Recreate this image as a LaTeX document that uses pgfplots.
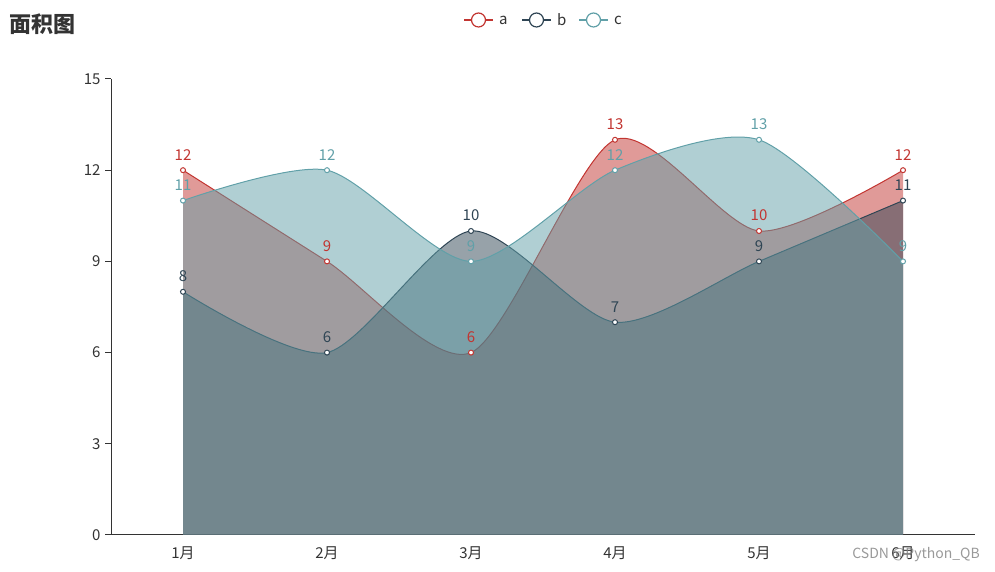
\documentclass[border=0pt]{standalone}
\usepackage{fontspec}
\setmainfont{Noto Sans CJK SC}
\usepackage{pgfplots}
\pgfplotsset{compat=1.18}
\definecolor{ca}{HTML}{C23531}
\definecolor{cb}{HTML}{2F4554}
\definecolor{cc}{HTML}{61A0A8}
\definecolor{txt}{HTML}{333333}
\newcommand{\fs}{\fontsize{15bp}{18bp}\selectfont}
\begin{document}
\begin{tikzpicture}[x=1bp,y=1bp]
\path[use as bounding box] (0,0) rectangle (995,572);
\begin{axis}[
  at={(111bp,37bp)}, anchor=south west,
  scale only axis, width=864bp, height=456bp,
  xmin=0, xmax=6, ymin=0, ymax=15,
  axis lines=left,
  axis line style={-, draw=txt, line width=1bp},
  /pgf/number format/assume math mode=true,
  tick align=outside,
  major tick length=6bp,
  tick style={draw=txt, line width=1bp},
  ytick={0,3,...,15},
  xtick={0.5,1.5,...,5.5},
  xticklabels={1月,2月,3月,4月,5月,6月},
  x tick style={draw=none},
  extra x ticks={0,1,...,6},
  extra x tick labels={},
  extra x tick style={tick style={draw=txt, line width=1bp}},
  ticklabel style={font=\fs, text=txt},
  xticklabel style={yshift=-2bp},
  yticklabel style={xshift=-1bp},
  clip=false,
  every axis plot/.append style={tension=0.45},
]
% areas
\addplot[smooth, draw=none, fill=ca, fill opacity=0.5] coordinates {(0.5,12)(1.5,9)(2.5,6)(3.5,13)(4.5,10)(5.5,12)} \closedcycle;
\addplot[smooth, ca, line width=1bp] coordinates {(0.5,12)(1.5,9)(2.5,6)(3.5,13)(4.5,10)(5.5,12)};
\addplot[smooth, draw=none, fill=cb, fill opacity=0.5] coordinates {(0.5,8)(1.5,6)(2.5,10)(3.5,7)(4.5,9)(5.5,11)} \closedcycle;
\addplot[smooth, cb, line width=1bp] coordinates {(0.5,8)(1.5,6)(2.5,10)(3.5,7)(4.5,9)(5.5,11)};
\addplot[smooth, draw=none, fill=cc, fill opacity=0.5] coordinates {(0.5,11)(1.5,12)(2.5,9)(3.5,12)(4.5,13)(5.5,9)} \closedcycle;
\addplot[smooth, cc, line width=1bp] coordinates {(0.5,11)(1.5,12)(2.5,9)(3.5,12)(4.5,13)(5.5,9)};
% marks and labels
\addplot[only marks, mark=*, mark size=2.5bp, mark options={fill=white, draw=ca, line width=1bp},
  nodes near coords, every node near coord/.append style={anchor=base, yshift=10bp, font=\fs, text=ca}]
  coordinates {(0.5,12)(1.5,9)(2.5,6)(3.5,13)(4.5,10)(5.5,12)};
\addplot[only marks, mark=*, mark size=2.5bp, mark options={fill=white, draw=cb, line width=1bp},
  nodes near coords, every node near coord/.append style={anchor=base, yshift=10bp, font=\fs, text=cb}]
  coordinates {(0.5,8)(1.5,6)(2.5,10)(3.5,7)(4.5,9)(5.5,11)};
\addplot[only marks, mark=*, mark size=2.5bp, mark options={fill=white, draw=cc, line width=1bp},
  nodes near coords, every node near coord/.append style={anchor=base, yshift=10bp, font=\fs, text=cc}]
  coordinates {(0.5,11)(1.5,12)(2.5,9)(3.5,12)(4.5,13)(5.5,9)};
\end{axis}
% title
\node[anchor=west, inner sep=0pt, font=\fontsize{22bp}{26bp}\selectfont\bfseries, text=txt] at (9,548) {面积图};
% legend
\draw[ca, line width=1.2bp] (464,552) -- (493,552);
\draw[ca, line width=1.2bp, fill=white] (478.5,552) circle (7);
\node[anchor=west, inner sep=0pt, font=\fs, text=txt] at (499,552) {a};
\draw[cb, line width=1.2bp] (522,552) -- (551,552);
\draw[cb, line width=1.2bp, fill=white] (536.5,552) circle (7);
\node[anchor=west, inner sep=0pt, font=\fs, text=txt] at (557,552) {b};
\draw[cc, line width=1.2bp] (579,552) -- (608,552);
\draw[cc, line width=1.2bp, fill=white] (593.5,552) circle (7);
\node[anchor=west, inner sep=0pt, font=\fs, text=txt] at (614,552) {c};
% watermark
\node[anchor=east, inner sep=0pt, font=\fontsize{14bp}{16bp}\selectfont, text=gray, opacity=0.8] at (980,17) {CSDN @Python\_QB};
\end{tikzpicture}
\end{document}
